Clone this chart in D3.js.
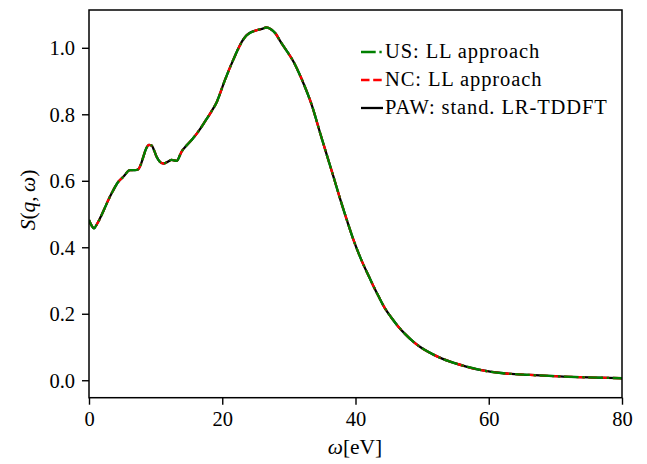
<!DOCTYPE html>
<html>
<head>
<meta charset="utf-8">
<script src="https://cdn.jsdelivr.net/npm/d3@7"></script>
<style>
  html, body { margin: 0; padding: 0; background: #fff; }
  svg { display: block; }
</style>
</head>
<body>
<svg id="chart" width="647" height="464"></svg>
<script>
// ---- data ----
const omega = [0, 0.4, 0.75, 1.2, 1.65, 2.3, 2.9, 3.6, 4.4, 5.15, 6.15, 6.9, 7.4, 7.8, 8.15, 8.6, 9.0, 9.4, 9.8, 10.15,
  10.6, 11.15, 11.8, 12.4, 13.15, 13.9, 14.6, 15.5, 16.4, 17.4, 18.2, 19.2, 20.4, 21.7, 22.9, 23.6, 24.3, 25.2, 26.0, 26.6, 27.3,
  28.0, 28.7, 29.7, 30.7, 31.5, 32.4, 33.4, 34.7, 35.7, 36.7, 37.7, 38.7, 39.7, 40.5, 41.2, 42.0, 42.7, 43.5, 44.4, 45.4,
  46.4, 47.5, 48.5, 49.5, 50.5, 51.7, 53.0, 54.2, 56.5, 58.7, 62.2, 66.2, 71.2, 76.2, 80];
const sUS = [0.482, 0.465, 0.457, 0.470, 0.487, 0.515, 0.542, 0.570, 0.597, 0.612, 0.632, 0.632, 0.635, 0.650, 0.672, 0.698, 0.708, 0.706, 0.690, 0.672,
  0.658, 0.652, 0.657, 0.663, 0.660, 0.688, 0.705, 0.725, 0.748, 0.778, 0.803, 0.838, 0.903, 0.966, 1.016, 1.036, 1.046, 1.053, 1.057, 1.061, 1.056,
  1.043, 1.020, 0.990, 0.958, 0.925, 0.883, 0.830, 0.743, 0.677, 0.612, 0.545, 0.482, 0.422, 0.380, 0.347, 0.313, 0.283, 0.251, 0.217, 0.188,
  0.162, 0.138, 0.119, 0.103, 0.090, 0.077, 0.065, 0.056, 0.042, 0.031, 0.021, 0.016, 0.011, 0.008, 0.006];
const sNC = [0.481, 0.465, 0.457, 0.470, 0.487, 0.515, 0.542, 0.570, 0.597, 0.612, 0.632, 0.632, 0.635, 0.650, 0.672, 0.698, 0.708, 0.706, 0.690, 0.672,
  0.658, 0.652, 0.657, 0.663, 0.660, 0.688, 0.705, 0.725, 0.748, 0.778, 0.803, 0.838, 0.903, 0.966, 1.016, 1.036, 1.046, 1.053, 1.057, 1.061, 1.056,
  1.043, 1.020, 0.990, 0.958, 0.925, 0.883, 0.830, 0.743, 0.677, 0.612, 0.545, 0.482, 0.422, 0.380, 0.347, 0.313, 0.283, 0.251, 0.217, 0.188,
  0.162, 0.138, 0.119, 0.103, 0.090, 0.077, 0.065, 0.056, 0.042, 0.031, 0.021, 0.016, 0.011, 0.008, 0.006];
const sPAW = [0.482, 0.465, 0.457, 0.470, 0.487, 0.515, 0.542, 0.570, 0.597, 0.612, 0.632, 0.632, 0.635, 0.650, 0.672, 0.698, 0.708, 0.706, 0.690, 0.672,
  0.658, 0.652, 0.657, 0.663, 0.660, 0.688, 0.705, 0.725, 0.748, 0.778, 0.803, 0.838, 0.903, 0.966, 1.017, 1.037, 1.047, 1.053, 1.057, 1.061, 1.056,
  1.043, 1.020, 0.990, 0.958, 0.925, 0.883, 0.830, 0.743, 0.677, 0.612, 0.545, 0.482, 0.422, 0.380, 0.347, 0.313, 0.283, 0.251, 0.217, 0.188,
  0.162, 0.138, 0.119, 0.103, 0.090, 0.077, 0.065, 0.056, 0.042, 0.031, 0.021, 0.016, 0.011, 0.008, 0.006];
const xTicks = [0, 20, 40, 60, 80];
const yTicks = [0.0, 0.2, 0.4, 0.6, 0.8, 1.0];
const seriesNames = ["US: LL approach", "NC: LL approach", "PAW: stand. LR-TDDFT"];

// ---- layout ----
const FONT = "Times New Roman";
const pL = 89, pR = 622, pT = 10, pB = 397.7;
const svg = d3.select("#chart");
const x = d3.scaleLinear().domain([0, 80]).range([pL, pR]);
const y = d3.scaleLinear().domain([-0.0525, 1.1137]).range([pB, pT]);

const series = [
  { name: seriesNames[2], vals: sPAW, color: "#000000", dash: null },
  { name: seriesNames[1], vals: sNC, color: "#ff0000", dash: "8.5,3.7" },
  { name: seriesNames[0], vals: sUS, color: "#008000", dash: "14.7,3.7,2.3,3.7" }
];

const clipId = "plotclip";
svg.append("defs").append("clipPath").attr("id", clipId)
  .append("rect").attr("x", pL).attr("y", pT).attr("width", pR - pL).attr("height", pB - pT);

const line = d3.line().x(d => x(d[0])).y(d => y(d[1])).curve(d3.curveMonotoneX);
const g = svg.append("g").attr("clip-path", `url(#${clipId})`);
series.forEach(s => {
  g.append("path")
    .datum(omega.map((w, i) => [w, s.vals[i]]))
    .attr("d", line)
    .attr("fill", "none")
    .attr("stroke", s.color)
    .attr("stroke-width", 2.3)
    .attr("stroke-dasharray", s.dash)
    .attr("stroke-linejoin", "round");
});

// ---- axes ----
const fs = 20.5;
const xAxis = d3.axisBottom(x).tickValues(xTicks).tickSize(7).tickPadding(6).tickFormat(d3.format("d"));
const yAxis = d3.axisLeft(y).tickValues(yTicks).tickSize(7).tickPadding(7).tickFormat(d3.format(".1f"));
const gx = svg.append("g").attr("transform", `translate(0,${pB})`).call(xAxis);
const gy = svg.append("g").attr("transform", `translate(${pL},0)`).call(yAxis);
[gx, gy].forEach(a => {
  a.attr("font-family", FONT).attr("font-size", fs);
  a.select(".domain").remove();
  a.selectAll(".tick line").attr("stroke", "#000").attr("stroke-width", 1.4);
  a.selectAll(".tick text").attr("font-family", FONT).attr("font-size", fs).attr("fill", "#000");
});
gx.selectAll(".tick text").attr("dy", "0.75em");
gy.selectAll(".tick text").attr("dy", "0.35em");

// frame
svg.append("rect").attr("x", pL).attr("y", pT).attr("width", pR - pL).attr("height", pB - pT)
  .attr("fill", "none").attr("stroke", "#000").attr("stroke-width", 1.5);

// axis labels
const xl = svg.append("text").attr("x", 355).attr("y", 454).attr("text-anchor", "middle")
  .attr("font-size", fs + 1).attr("font-family", FONT).attr("fill", "#000");
xl.append("tspan").attr("font-style", "italic").text("ω");
xl.append("tspan").text("[eV]");

const yl = svg.append("text").attr("transform", "translate(35,200) rotate(-90)").attr("text-anchor", "middle")
  .attr("font-size", fs + 1).attr("font-family", FONT).attr("fill", "#000");
yl.append("tspan").attr("font-style", "italic").text("S");
yl.append("tspan").text("(");
yl.append("tspan").attr("font-style", "italic").text("q");
yl.append("tspan").text(",\u2009");
yl.append("tspan").attr("font-style", "italic").text("ω");
yl.append("tspan").text(")");

// legend
const legendItems = [series[2], series[1], series[0]];
const lg = svg.append("g");
legendItems.forEach((s, i) => {
  const by = 58.3 + i * 28;
  lg.append("line").attr("x1", 361).attr("x2", 383).attr("y1", by - 6.3).attr("y2", by - 6.3)
    .attr("stroke", s.color).attr("stroke-width", 2.3).attr("stroke-dasharray", s.dash);
  lg.append("text").attr("x", 385).attr("y", by).attr("font-size", fs).attr("font-family", FONT)
    .attr("letter-spacing", 0.9).attr("fill", "#000").text(s.name);
});
</script>
</body>
</html>
